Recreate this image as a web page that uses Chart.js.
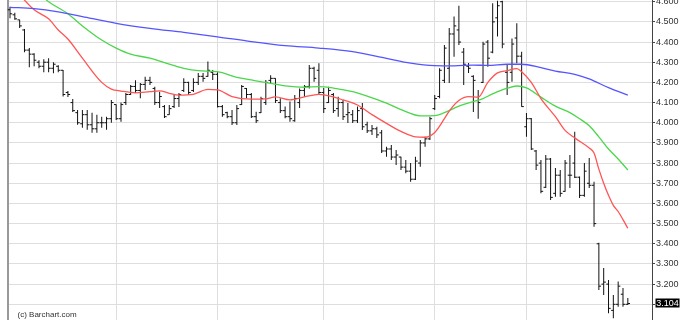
<!DOCTYPE html>
<html><head><meta charset="utf-8">
<script src="https://cdn.jsdelivr.net/npm/chart.js@4.4.1/dist/chart.umd.min.js"></script>
<style>html,body{margin:0;padding:0;background:#fff;overflow:hidden}</style>
</head><body>
<canvas id="c" width="685" height="320"></canvas>
<script>
// ---- OHLC series (one entry per trading day, index 0..128) ----
const opens = [4.56,4.535,4.51,4.46,4.36,4.34,4.3,4.28,4.3,4.27,4.28,4.26,4.15,4.1,4.05,3.995,4.04,3.99,3.97,4.0,4.0,4.02,
4.09,4.02,4.1,4.14,4.18,4.16,4.19,4.21,4.17,4.1,4.08,4.04,4.08,4.12,4.16,4.2,4.16,4.2,4.23,4.23,4.25,4.24,
4.08,4.05,4.03,4.0,4.09,4.17,4.14,4.03,4.05,4.1,4.21,4.22,4.1,4.06,4.03,4.01,4.1,4.16,4.18,4.27,4.26,
4.15,4.1,4.14,4.07,4.1,4.04,4.04,4.01,4.07,3.99,3.96,3.97,3.95,3.86,3.87,3.83,3.83,3.78,3.76,3.72,3.8,3.9,3.92,
4.07,4.13,4.21,4.27,4.44,4.46,4.35,4.28,4.23,4.11,4.2,4.4,4.35,4.52,4.6,4.25,4.25,4.42,4.33,3.98,4.02,
3.86,3.8,3.68,3.82,3.65,3.74,3.66,3.74,3.8,3.73,3.64,3.7,3.69,3.4,3.2,3.2,3.07,3.1,3.15,3.1];
const highs = [4.575,4.545,4.51,4.465,4.37,4.345,4.31,4.315,4.32,4.3,4.285,4.262,4.157,4.118,4.063,4.063,4.063,4.05,4.04,4.03,4.03,4.113,
4.09,4.1,4.147,4.187,4.21,4.197,4.228,4.228,4.178,4.154,4.088,4.088,4.137,4.147,4.22,4.203,4.22,4.246,4.246,4.303,4.261,4.25,
4.088,4.055,4.063,4.088,4.187,4.172,4.147,4.055,4.129,4.212,4.236,4.221,4.122,4.08,4.105,4.137,4.17,4.187,4.286,4.278,4.295,
4.172,4.178,4.147,4.129,4.113,4.098,4.063,4.08,4.098,4.005,3.989,3.98,3.964,3.881,3.89,3.865,3.832,3.815,3.8,3.832,3.914,3.931,4.03,
4.137,4.27,4.385,4.47,4.526,4.58,4.37,4.296,4.236,4.162,4.402,4.41,4.592,4.605,4.605,4.286,4.418,4.493,4.352,4.048,4.023,
3.865,3.815,3.84,3.825,3.776,3.766,3.815,3.84,3.955,3.734,3.8,3.825,3.708,3.405,3.28,3.22,3.146,3.213,3.181,3.131];
const lows = [4.518,4.51,4.47,4.35,4.275,4.28,4.27,4.25,4.25,4.245,4.25,4.13,4.127,4.053,3.99,3.975,3.965,3.95,3.95,3.975,3.965,4.0,
4.013,4.005,4.088,4.137,4.147,4.122,4.162,4.187,4.088,4.073,4.024,4.039,4.073,4.078,4.152,4.137,4.152,4.187,4.203,4.228,4.212,4.075,
4.03,4.022,3.989,3.989,4.088,4.122,4.023,3.999,4.048,4.088,4.197,4.098,4.048,4.022,4.005,4.005,4.073,4.129,4.17,4.203,4.137,
4.048,4.098,4.048,4.03,4.014,3.999,3.999,3.999,3.964,3.949,3.939,3.924,3.85,3.831,3.815,3.79,3.766,3.75,3.708,3.716,3.782,3.881,3.914,
4.063,4.122,4.197,4.197,4.327,4.385,4.187,4.246,4.053,4.02,4.197,4.278,4.344,4.427,4.369,4.137,4.203,4.295,4.079,3.931,3.865,
3.766,3.651,3.676,3.617,3.633,3.633,3.658,3.676,3.726,3.627,3.633,3.676,3.485,3.171,3.146,3.056,3.031,3.088,3.088,3.096];
const closes = [4.54,4.515,4.48,4.36,4.34,4.31,4.28,4.3,4.27,4.29,4.26,4.14,4.14,4.06,4.0,4.04,3.99,3.97,4.0,4.0,4.02,4.1,
4.02,4.09,4.14,4.18,4.16,4.19,4.21,4.2,4.1,4.13,4.03,4.07,4.12,4.14,4.2,4.15,4.2,4.23,4.22,4.26,4.24,4.08,
4.04,4.03,4.0,4.07,4.18,4.14,4.03,4.01,4.12,4.2,4.22,4.11,4.06,4.03,4.02,4.12,4.16,4.18,4.27,4.22,4.15,
4.07,4.16,4.06,4.1,4.03,4.05,4.01,4.06,3.98,3.96,3.97,3.94,3.86,3.87,3.83,3.84,3.78,3.76,3.72,3.81,3.9,3.92,4.02,
4.12,4.26,4.37,4.44,4.48,4.4,4.29,4.27,4.21,4.1,4.39,4.32,4.5,4.58,4.39,4.2,4.39,4.33,4.08,4.02,3.87,
3.79,3.66,3.82,3.63,3.74,3.65,3.8,3.74,3.73,3.64,3.76,3.69,3.5,3.19,3.21,3.08,3.1,3.19,3.1,3.104];

// ---- moving averages, read at selected day indices ----
const redDays  = [1,5,8,10,12,15,19,21,23,26,29,31,33,35,38,41,43,46,50,53,55,58,61,64,67,69,72,75,78,81,84,86,88,90,91,93,95,97,99,101,103,105,106,108,110,113,115,117,120,121,122,123,124,125,126,127,128];
const redVals  = [4.66,4.56,4.515,4.46,4.415,4.32,4.2,4.167,4.157,4.148,4.154,4.158,4.146,4.137,4.141,4.165,4.163,4.13,4.117,4.118,4.128,4.113,4.128,4.141,4.128,4.113,4.088,4.04,3.997,3.957,3.93,3.928,3.952,4.02,4.058,4.11,4.129,4.127,4.2,4.247,4.258,4.268,4.253,4.2,4.12,4.03,3.962,3.925,3.875,3.85,3.77,3.7,3.64,3.59,3.56,3.52,3.477];
const greenDays = [6,8,12,15,19,22,25,29,32,36,39,43,47,50,54,57,61,64,67,71,74,78,81,85,88,90,93,96,98,100,103,105,107,110,113,116,118,120,122,124,126,128];
const greenVals = [4.64,4.6,4.54,4.48,4.41,4.37,4.34,4.32,4.298,4.27,4.258,4.253,4.225,4.212,4.195,4.183,4.176,4.179,4.172,4.154,4.132,4.097,4.065,4.034,4.035,4.05,4.082,4.105,4.12,4.143,4.171,4.182,4.173,4.127,4.082,4.05,4.02,3.985,3.93,3.87,3.82,3.766];
const blueDays = [0,5,10,15,22,29,36,43,50,57,64,71,78,83,88,92,96,99,103,106,110,113,117,120,124,128];
const blueVals = [4.572,4.566,4.55,4.526,4.493,4.468,4.448,4.426,4.402,4.382,4.37,4.352,4.319,4.295,4.283,4.282,4.286,4.284,4.29,4.29,4.273,4.256,4.24,4.217,4.174,4.137];

// ---- axis ticks ----
const yTicks = [3.1,3.2,3.3,3.4,3.5,3.6,3.7,3.8,3.9,4.0,4.1,4.2,4.3,4.4,4.5,4.6];
const monthStarts = [22,43,65,88,107];
const copyright = '(c) Barchart.com';

const FONT = '"Liberation Sans", Arial, sans-serif';

const ohlcTicks = {
  id: 'ohlcTicks',
  afterDatasetDraw(chart, args) {
    if (args.index !== 3) return;
    const {ctx, scales: {x, y}} = chart;
    ctx.save();
    ctx.fillStyle = '#111';
    opens.forEach((o, i) => {
      const px = x.getPixelForValue(i);
      ctx.fillRect(px - 2.2, y.getPixelForValue(o) - 0.5, 2.2, 1);
      ctx.fillRect(px, y.getPixelForValue(closes[i]) - 0.5, 2.2, 1);
    });
    ctx.restore();
  }
};

const extras = {
  id: 'extras',
  afterDraw(chart) {
    const {ctx, scales: {y}, chartArea} = chart;
    ctx.save();
    const v = closes[closes.length - 1];
    const py = y.getPixelForValue(v);
    ctx.font = '9px ' + FONT;
    const t = v.toFixed(3);
    const w = ctx.measureText(t).width;
    ctx.fillStyle = '#000';
    ctx.fillRect(chartArea.right + 3.5, Math.round(py) - 4.5, w + 1.5, 9);
    ctx.fillStyle = '#fff';
    ctx.textBaseline = 'middle';
    ctx.fillText(t, chartArea.right + 4.2, py + 0.5);
    ctx.font = '8px ' + FONT;
    ctx.fillStyle = '#333';
    ctx.textBaseline = 'alphabetic';
    ctx.fillText(copyright, chartArea.left + 9.5, 317);
    ctx.restore();
  }
};

const lineDs = (days, vals, color) => ({
  type: 'line',
  data: days.map((d, i) => ({x: d, y: vals[i]})),
  borderColor: color,
  borderWidth: 1.3,
  pointRadius: 0,
  tension: 0.4,
  cubicInterpolationMode: 'monotone',
  fill: false
});

new Chart(document.getElementById('c'), {
  type: 'bar',
  data: {
    datasets: [
      lineDs(blueDays, blueVals, '#5555ff'),
      lineDs(redDays, redVals, '#ff5555'),
      lineDs(greenDays, greenVals, '#4cd64c'),
      {
        type: 'bar',
        data: highs.map((h, i) => ({x: i, y: [lows[i], h]})),
        backgroundColor: '#111',
        borderWidth: 0,
        inflateAmount: 0,
        barThickness: 1
      }
    ]
  },
  options: {
    responsive: false,
    animation: false,
    events: [],
    layout: {padding: 0},
    plugins: {legend: {display: false}, tooltip: {enabled: false}},
    scales: {
      x: {
        type: 'linear',
        offset: false,
        min: -0.414,
        max: 133.01,
        afterBuildTicks(s) { s.ticks = monthStarts.map(v => ({value: v})); },
        ticks: {display: false},
        grid: {color: '#dedede', lineWidth: 1, drawTicks: false, offset: false},
        border: {display: false},
        afterFit(s) { s.height = 0; s.paddingLeft = 0; s.paddingRight = 0; }
      },
      y: {
        position: 'right',
        min: 3.0222,
        max: 4.6084,
        afterBuildTicks(s) { s.ticks = yTicks.map(v => ({value: v})); },
        ticks: {
          callback: v => Number(v).toFixed(3),
          font: {family: FONT, size: 9},
          color: '#333',
          padding: 1
        },
        grid: {color: '#dedede', lineWidth: 1, tickLength: 3, tickColor: '#444'},
        border: {display: true, color: '#444', width: 1},
        afterFit(s) { s.width = 33; s.paddingTop = 0; s.paddingBottom = 0; }
      },
      yl: {
        position: 'left',
        min: 0, max: 1,
        ticks: {display: false},
        grid: {display: false},
        border: {display: true, color: '#999', width: 2},
        afterFit(s) { s.width = 8; s.paddingTop = 0; s.paddingBottom = 0; }
      }
    }
  },
  plugins: [ohlcTicks, extras]
});
</script>
</body></html>
